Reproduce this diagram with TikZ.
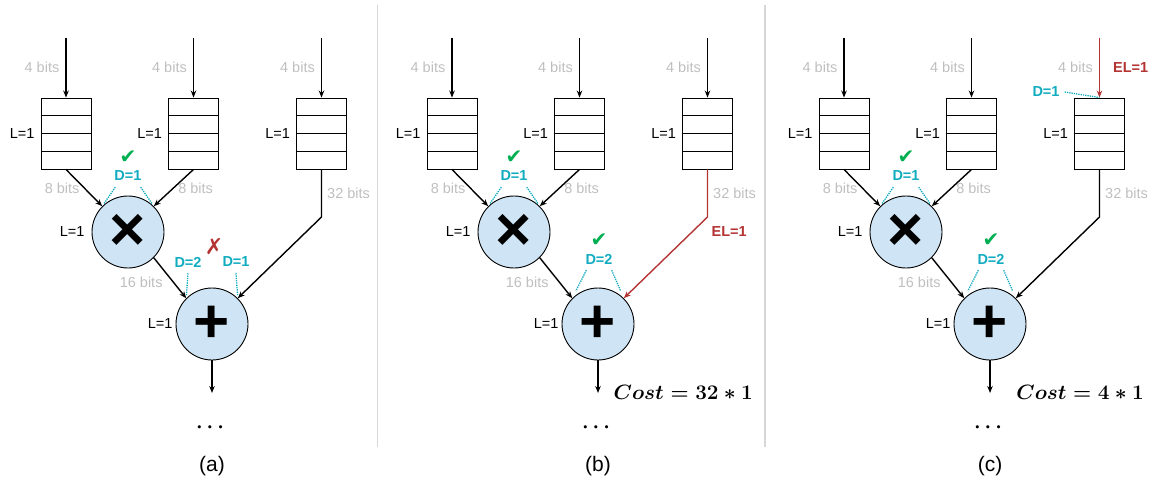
\documentclass[tikz,border=0pt]{standalone}
\usepackage[no-math]{fontspec}
\setmainfont{Liberation Sans}
\newfontfamily\symfont{DejaVu Sans}
\usepackage{amsmath,amssymb}
\usepackage{tikz}
\usetikzlibrary{positioning,calc,arrows.meta}
\usepackage{xcolor}
\definecolor{bitgray}{RGB}{191,191,191}
\definecolor{dcyan}{RGB}{18,172,192}
\definecolor{elred}{RGB}{180,52,52}
\definecolor{okgreen}{RGB}{0,176,80}
\definecolor{opblue}{RGB}{207,228,244}
\definecolor{sepgray}{RGB}{215,215,215}

\begin{document}
\begin{tikzpicture}[
    x=1pt, y=-1pt,
    font=\fontsize{14.5}{17}\selectfont,
    fifo/.style={rectangle, draw, line width=0.9pt, minimum width=50pt, minimum height=71pt, inner sep=0pt,
        path picture={\foreach \k in {1,2,3} {\draw[line width=0.9pt] ($(path picture bounding box.north west)!\k/4!(path picture bounding box.south west)$) -- ($(path picture bounding box.north east)!\k/4!(path picture bounding box.south east)$);}}},
    opnode/.style={circle, draw, line width=0.9pt, fill=opblue, minimum size=72pt, inner sep=0pt, font=\fontsize{62}{62}\selectfont\bfseries},
    lat/.style={inner sep=1pt},
    bits/.style={text=bitgray, inner sep=1pt},
    dlab/.style={text=dcyan, font=\fontsize{14.5}{17}\selectfont\bfseries, inner sep=1pt},
    ellab/.style={text=elred, font=\fontsize{14.5}{17}\selectfont\bfseries, inner sep=1pt},
    okmark/.style={text=okgreen, font=\fontsize{20}{20}\symfont, inner sep=0pt},
    nomark/.style={text=elred, font=\fontsize{22}{22}\symfont, inner sep=0pt},
    cost/.style={font=\fontsize{21}{25}\selectfont, inner sep=0pt},
    caption/.style={font=\fontsize{21}{25}\selectfont},
    arrow/.style={-{Stealth[length=7pt, width=5.5pt]}, line width=1.4pt},
    redarrow/.style={arrow, color=elred},
    dotline/.style={dcyan, densely dotted, line width=1.3pt, shorten >=3pt},
    sepline/.style={sepgray, line width=1.5pt}
]
\useasboundingbox (0,0) rectangle (1154,484);

% Separators
\coordinate (s1t) at (377.5,5);
\coordinate (s1b) at (377.5,447);
\coordinate (s2t) at (765,5);
\coordinate (s2b) at (765,447);
\draw[sepline] (s1t) -- (s1b);
\draw[sepline] (s2t) -- (s2b);

% Panel (a)
\begin{scope}
% FIFOs
\node[fifo] (fifoa1) at (66,133.5) {};
\node[fifo] (fifoa2) at (193.5,133.5) {};
\node[fifo] (fifoa3) at (321.5,133.5) {};
\node[lat, left=5pt of fifoa1] (lfa1) {L=1};
\node[lat, left=5pt of fifoa2] (lfa2) {L=1};
\node[lat, left=5pt of fifoa3] (lfa3) {L=1};
% Operators
\node[opnode] (multa) at (128,232) {×};
\node[opnode] (adda) at (212,324) {+};
\node[lat, left=6pt of multa] (lma) {L=1};
\node[lat, left=2pt of adda] (laa) {L=1};
\coordinate (ina1) at (66,38);
\coordinate (ina2) at (193.5,38);
\coordinate (ina3) at (321.5,38);
\coordinate (benda) at (321.5,217);
\coordinate (outa) at (212,393);
% Arrows
\draw[arrow] (ina1) -- node[bits, left=5pt] (bia1) {4 bits} (fifoa1);
\draw[arrow] (ina2) -- node[bits, left=5pt] (bia2) {4 bits} (fifoa2);
\draw[arrow] (ina3) -- node[bits, left=5pt] (bia3) {4 bits} (fifoa3);
\draw[arrow] (fifoa1.south) -- node[bits, left=3pt] (bma1) {8 bits} (multa.135);
\draw[arrow] (fifoa2.south) -- node[bits, right=3pt] (bma2) {8 bits} (multa.45);
\draw[arrow] (fifoa3.south) -- node[bits, right=4pt] (bsa) {32 bits} (benda) -- (adda.45);
\draw[arrow] (multa.-45) -- node[bits, left=9pt, pos=0.6] (bxa) {16 bits} (adda.135);
\draw[arrow] (adda) -- (outa);
% Delays
\node[dlab] (dma) at (128,176) {D=1};
\node[okmark, above=6pt of dma] (okma) {✔};
\draw[dotline] ([xshift=2pt, yshift=-5pt]dma.south west) -- (multa.135);
\draw[dotline] ([xshift=-2pt, yshift=-5pt]dma.south east) -- (multa.45);
\node[dlab] (daa1) at (188,262) {D=2};
\node[dlab] (daa2) at (236,262) {D=1};
\node[nomark] (noa) at (214,247) {✗};
\draw[dotline] ([yshift=-5pt]daa1.south) -- (adda.135);
\draw[dotline] ([yshift=-5pt]daa2.south) -- (adda.45);
% Output
\node[caption] (dotsa) at (212,428) {$\boldsymbol{\cdots}$};
\node[caption] (capa) at (212,466) {(a)};
\end{scope}

% Panel (b)
\begin{scope}[shift={(386,0)}]
% FIFOs
\node[fifo] (fifob1) at (66,133.5) {};
\node[fifo] (fifob2) at (193.5,133.5) {};
\node[fifo] (fifob3) at (321.5,133.5) {};
\node[lat, left=5pt of fifob1] (lfb1) {L=1};
\node[lat, left=5pt of fifob2] (lfb2) {L=1};
\node[lat, left=5pt of fifob3] (lfb3) {L=1};
% Operators
\node[opnode] (multb) at (128,232) {×};
\node[opnode] (addb) at (212,324) {+};
\node[lat, left=6pt of multb] (lmb) {L=1};
\node[lat, left=2pt of addb] (lab) {L=1};
\coordinate (inb1) at (66,38);
\coordinate (inb2) at (193.5,38);
\coordinate (inb3) at (321.5,38);
\coordinate (bendb) at (321.5,217);
\coordinate (outb) at (212,393);
% Arrows
\draw[arrow] (inb1) -- node[bits, left=5pt] (bib1) {4 bits} (fifob1);
\draw[arrow] (inb2) -- node[bits, left=5pt] (bib2) {4 bits} (fifob2);
\draw[arrow] (inb3) -- node[bits, left=5pt] (bib3) {4 bits} (fifob3);
\draw[arrow] (fifob1.south) -- node[bits, left=3pt] (bmb1) {8 bits} (multb.135);
\draw[arrow] (fifob2.south) -- node[bits, right=3pt] (bmb2) {8 bits} (multb.45);
\draw[redarrow] (fifob3.south) -- node[bits, right=4pt] (bsb) {32 bits} (bendb) -- (addb.45);
\node[ellab, below right=8pt and 3pt of bendb] (elb) {EL=1};
\draw[arrow] (multb.-45) -- node[bits, left=9pt, pos=0.6] (bxb) {16 bits} (addb.135);
\draw[arrow] (addb) -- (outb);
% Delays
\node[dlab] (dmb) at (128,176) {D=1};
\node[okmark, above=6pt of dmb] (okmb) {✔};
\draw[dotline] ([xshift=2pt, yshift=-5pt]dmb.south west) -- (multb.135);
\draw[dotline] ([xshift=-2pt, yshift=-5pt]dmb.south east) -- (multb.45);
\node[dlab] (dab) at (213,259) {D=2};
\node[okmark, above=6pt of dab] (okab) {✔};
\draw[dotline, shorten >=8pt] ([xshift=2pt, yshift=-5pt]dab.south west) -- (addb.135);
\draw[dotline, shorten >=8pt] ([xshift=-2pt, yshift=-5pt]dab.south east) -- (addb.45);
% Cost and output
\node[cost, anchor=east] (costb) at (367,392) {$\boldsymbol{Cost = 32 * 1}$};
\node[caption] (dotsb) at (212,428) {$\boldsymbol{\cdots}$};
\node[caption] (capb) at (212,466) {(b)};
\end{scope}

% Panel (c)
\begin{scope}[shift={(778,0)}]
% FIFOs
\node[fifo] (fifoc1) at (66,133.5) {};
\node[fifo] (fifoc2) at (193.5,133.5) {};
\node[fifo] (fifoc3) at (321.5,133.5) {};
\node[lat, left=5pt of fifoc1] (lfc1) {L=1};
\node[lat, left=5pt of fifoc2] (lfc2) {L=1};
\node[lat, left=5pt of fifoc3] (lfc3) {L=1};
% Operators
\node[opnode] (multc) at (128,232) {×};
\node[opnode] (addc) at (212,324) {+};
\node[lat, left=6pt of multc] (lmc) {L=1};
\node[lat, left=2pt of addc] (lac) {L=1};
\coordinate (inc1) at (66,38);
\coordinate (inc2) at (193.5,38);
\coordinate (inc3) at (321.5,38);
\coordinate (bendc) at (321.5,217);
\coordinate (outc) at (212,393);
% Arrows
\draw[arrow] (inc1) -- node[bits, left=5pt] (bic1) {4 bits} (fifoc1);
\draw[arrow] (inc2) -- node[bits, left=5pt] (bic2) {4 bits} (fifoc2);
\draw[redarrow] (inc3) -- node[bits, left=5pt] (bic3) {4 bits} node[ellab, right=12pt] (elc) {EL=1} (fifoc3);
\draw[arrow] (fifoc1.south) -- node[bits, left=3pt] (bmc1) {8 bits} (multc.135);
\draw[arrow] (fifoc2.south) -- node[bits, right=3pt] (bmc2) {8 bits} (multc.45);
\draw[arrow] (fifoc3.south) -- node[bits, right=4pt] (bsc) {32 bits} (bendc) -- (addc.45);
\draw[arrow] (multc.-45) -- node[bits, left=9pt, pos=0.6] (bxc) {16 bits} (addc.135);
\draw[arrow] (addc) -- (outc);
% Delays
\node[dlab] (dfc) at (268,92) {D=1};
\draw[dotline, shorten >=0pt] ([xshift=4pt]dfc.east) -- (fifoc3.north);
\node[dlab] (dmc) at (128,176) {D=1};
\node[okmark, above=6pt of dmc] (okmc) {✔};
\draw[dotline] ([xshift=2pt, yshift=-5pt]dmc.south west) -- (multc.135);
\draw[dotline] ([xshift=-2pt, yshift=-5pt]dmc.south east) -- (multc.45);
\node[dlab] (dac) at (213,259) {D=2};
\node[okmark, above=6pt of dac] (okac) {✔};
\draw[dotline, shorten >=8pt] ([xshift=2pt, yshift=-5pt]dac.south west) -- (addc.135);
\draw[dotline, shorten >=8pt] ([xshift=-2pt, yshift=-5pt]dac.south east) -- (addc.45);
% Cost and output
\node[cost, anchor=east] (costc) at (366,392) {$\boldsymbol{Cost = 4 * 1}$};
\node[caption] (dotsc) at (212,428) {$\boldsymbol{\cdots}$};
\node[caption] (capc) at (212,466) {(c)};
\end{scope}

\end{tikzpicture}
\end{document}
